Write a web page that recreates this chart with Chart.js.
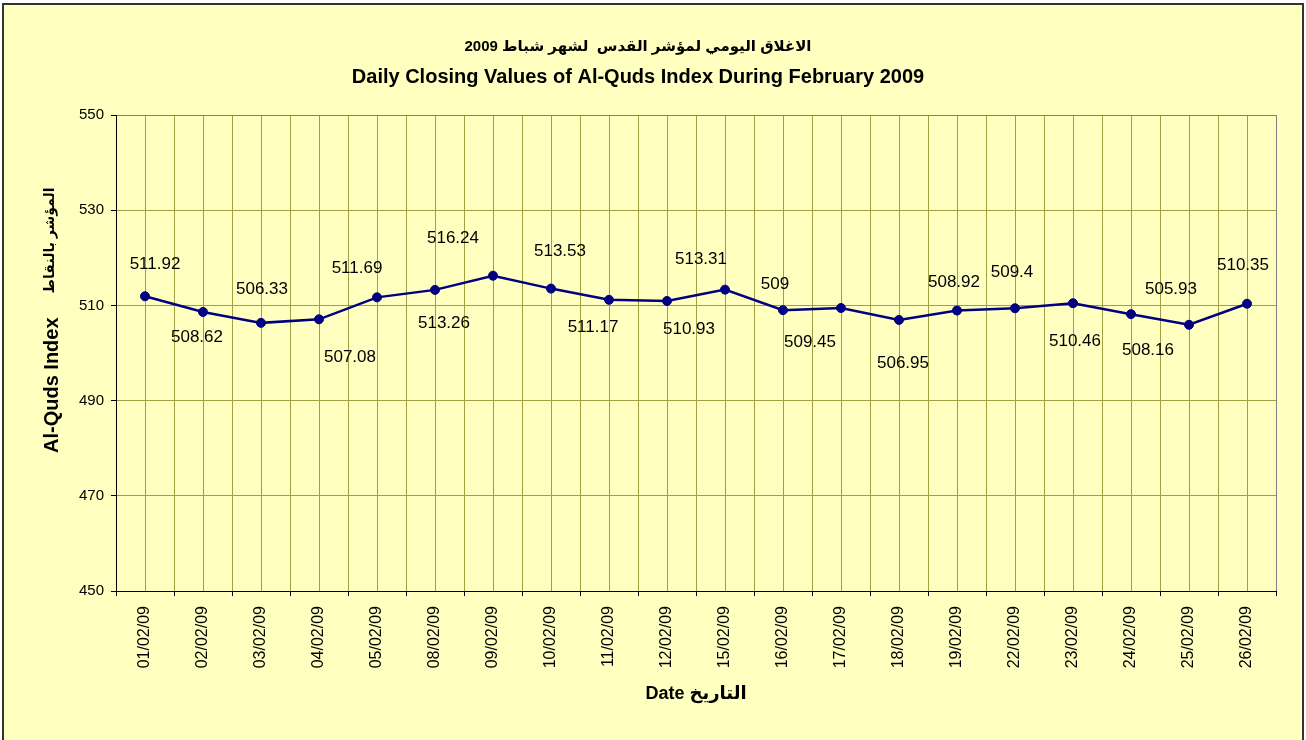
<!DOCTYPE html>
<html>
<head>
<meta charset="utf-8">
<title>Al-Quds Index February 2009</title>
<script src="https://cdn.jsdelivr.net/npm/chart.js@4.4.0/dist/chart.umd.min.js"></script>
<style>
    body { margin: 0; background: #ffffff; overflow: hidden; }
    #frame {
        position: absolute; left: 2px; top: 3px;
        width: 1298px; height: 800px;
        border: 2px solid #333333;
        background: #ffffc0;
    }
    #chart1 { position: absolute; left: 0; top: 0; }
</style>
</head>
<body>
<div id="frame"></div>
<canvas id="chart1" width="1306" height="740"></canvas>
<script>
// Daily closing values of the Al-Quds index, February 2009
const dates = ['01/02/09', '02/02/09', '03/02/09', '04/02/09', '05/02/09', '08/02/09', '09/02/09', '10/02/09', '11/02/09', '12/02/09',
    '15/02/09', '16/02/09', '17/02/09', '18/02/09', '19/02/09', '22/02/09', '23/02/09', '24/02/09', '25/02/09', '26/02/09'];
const closing = [511.92, 508.62, 506.33, 507.08, 511.69, 513.26, 516.24, 513.53, 511.17, 510.93,
    513.31, 509, 509.45, 506.95, 508.92, 509.4, 510.46, 508.16, 505.93, 510.35];
const yTicks = [450, 470, 490, 510, 530, 550];

// where each value label sits relative to its point (px)
const labelDx = [10, -6, 1, 31, -20, 9, -40, 9, -16, 22, -24, -8, -31, 4, -3, -3, 2, 17, -18, -4];
const labelDy = [-32, 25, -34, 38, -29, 33, -37, -37, 27, 28, -30, -26, 34, 43, -28, -36, 38, 36, -35, -38];

const fontFamily = "'Liberation Sans', Arial, 'DejaVu Sans', sans-serif";
const olive = '#a0a040';

const valueLabels = {
    id: 'valueLabels',
    afterDatasetsDraw(chart) {
        let ctx = chart.ctx;
        let meta = chart.getDatasetMeta(0);
        ctx.save();
        ctx.font = '17px ' + fontFamily;
        ctx.fillStyle = '#000000';
        ctx.textAlign = 'center';
        ctx.textBaseline = 'middle';
        meta.data.forEach((pt, i) => {
            ctx.fillText(String(closing[i]), pt.x + labelDx[i], pt.y + labelDy[i]);
        });
        ctx.restore();
    }
};

// y axis title: English and Arabic parts in different sizes, reading upwards
const yTitle = {
    id: 'yTitle',
    afterDraw(chart) {
        let ctx = chart.ctx;
        let area = chart.chartArea;
        ctx.save();
        ctx.translate(chart.scales.y.left + 52, area.bottom - 138);
        ctx.rotate(-Math.PI / 2);
        ctx.fillStyle = '#000000';
        ctx.textAlign = 'left';
        ctx.textBaseline = 'middle';
        ctx.font = 'bold 20px ' + fontFamily;
        ctx.fillText('Al-Quds Index', 0, 0);
        let w = ctx.measureText('Al-Quds Index').width;
        ctx.font = 'bold 14px ' + fontFamily;
        ctx.fillText('المؤشر بالنقاط', w + 24, -2);
        ctx.restore();
    }
};

let ctx1 = document.getElementById('chart1').getContext('2d');
let chart1 = new Chart(ctx1, {
    type: 'line',
    data: {
        labels: dates,
        datasets: [
            {
                label: 'Al-Quds Index',
                data: closing,
                borderColor: '#000080',
                backgroundColor: '#000080',
                borderWidth: 2.5,
                pointRadius: 4.5,
                pointBorderWidth: 1,
                pointBackgroundColor: '#000080',
                tension: 0,
                fill: false
            }
        ]
    },
    options: {
        responsive: false,
        animation: false,
        layout: { padding: { left: 0, right: 30, top: 0, bottom: 0 } },
        plugins: {
            legend: { display: false },
            tooltip: { enabled: false },
            title: {
                display: true,
                text: '\u202B' + 'الاغلاق اليومي لمؤشر القدس  لشهر شباط 2009' + '\u202C',
                color: '#000000',
                font: { family: fontFamily, size: 15, weight: 'bold', lineHeight: 1.2 },
                padding: { top: 38, bottom: 0 }
            },
            subtitle: {
                display: true,
                text: 'Daily Closing Values of Al-Quds Index During February 2009',
                color: '#000000',
                font: { family: fontFamily, size: 20, weight: 'bold', lineHeight: 1.2 },
                padding: { top: 9, bottom: 26 }
            }
        },
        scales: {
            x: {
                type: 'category',
                offset: true,
                afterFit: (s) => { s.height = 149; },
                border: { display: true, color: '#000000', width: 1 },
                grid: { display: true, offset: true, drawOnChartArea: false, drawTicks: true, tickLength: 5, color: '#000000' },
                ticks: {
                    color: '#000000',
                    font: { family: fontFamily, size: 16 },
                    minRotation: 90,
                    maxRotation: 90,
                    autoSkip: false,
                    padding: 10
                },
                title: {
                    display: true,
                    text: 'Date التاريخ',
                    color: '#000000',
                    font: { family: fontFamily, size: 18, weight: 'bold' },
                    padding: { top: 4, bottom: 35 }
                }
            },
            x2: {
                type: 'linear',
                position: 'bottom',
                min: 0,
                max: 20,
                afterFit: (s) => { s.height = 0; },
                border: { display: false },
                grid: {
                    drawTicks: false,
                    color: (c) => c.tick.value === 20 ? '#808080' : (c.tick.value === 0 ? '#000000' : olive)
                },
                ticks: { display: false, stepSize: 0.5 }
            },
            y: {
                min: 450,
                max: 550,
                afterFit: (s) => { s.width = 116; },
                border: { display: true, color: '#000000', width: 1 },
                grid: {
                    drawTicks: true,
                    tickLength: 5,
                    tickColor: '#000000',
                    color: (c) => c.tick.value === 550 ? '#808080' : (c.tick.value === 450 ? '#000000' : olive)
                },
                ticks: {
                    stepSize: 20,
                    color: '#000000',
                    font: { family: fontFamily, size: 15 },
                    padding: 7,
                    callback: (v) => yTicks.includes(v) ? String(v) : null
                },
                title: { display: false }
            }
        }
    },
    plugins: [valueLabels, yTitle]
});
</script>
</body>
</html>
